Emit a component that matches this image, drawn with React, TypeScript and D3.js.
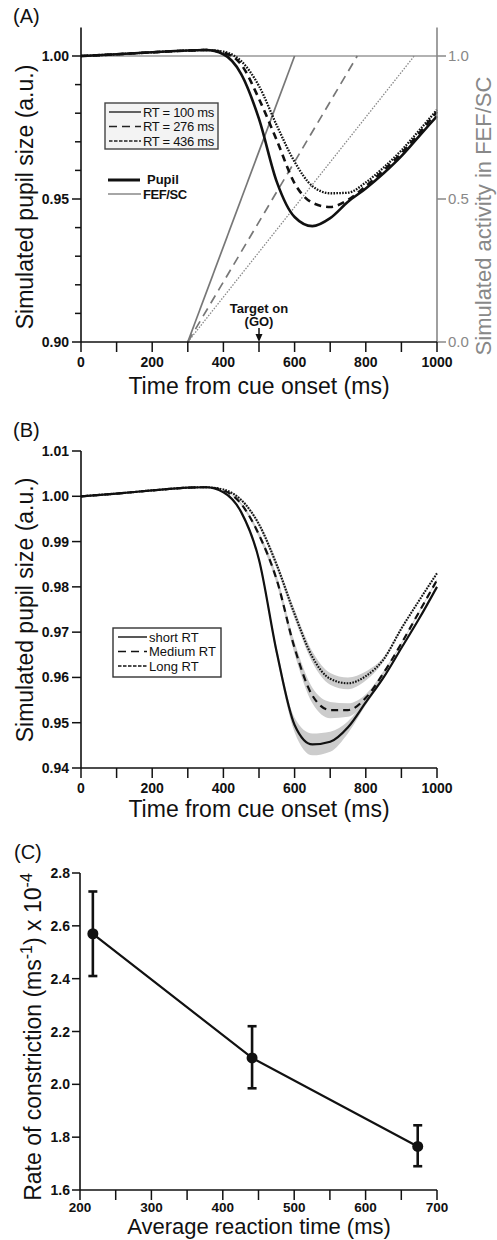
import { useEffect } from "react";
import * as d3 from "d3";

const FONT = "'Liberation Sans', Arial, sans-serif";

// time samples (ms from cue onset) shared by the simulated pupil traces
const timeMs = [0, 100, 200, 300, 350, 400, 450, 500, 550, 600, 650, 700, 750, 800, 850, 900, 950, 1000];

// (A) simulated pupil for three reaction times + FEF/SC ramps
const pupilRt100 = [1.0, 1.0006, 1.0013, 1.0019, 1.0021, 1.0006, 0.9937, 0.978, 0.956, 0.9437, 0.9405, 0.9433, 0.949, 0.9537, 0.959, 0.965, 0.972, 0.979];
const pupilRt276 = [1.0, 1.0006, 1.0013, 1.0019, 1.0021, 1.0012, 0.997, 0.985, 0.9705, 0.9555, 0.9487, 0.9472, 0.9497, 0.9545, 0.96, 0.966, 0.973, 0.9805];
const pupilRt436 = [1.0, 1.0006, 1.0013, 1.0019, 1.0021, 1.0015, 0.9982, 0.9895, 0.9757, 0.963, 0.9545, 0.952, 0.9522, 0.9558, 0.961, 0.967, 0.974, 0.9812];
const rtValuesA = [100, 276, 436];
const rtLabelsA = ["RT = 100 ms", "RT = 276 ms", "RT = 436 ms"];
const fefOnsetMs = 300;
const targetOnMs = 500;
const fefThreshold = 1.0;

// (B) simulated pupil for RT groups, with shaded error
const pupilShort = [1.0, 1.0006, 1.0013, 1.0019, 1.002, 1.0009, 0.9965, 0.986, 0.9655, 0.9495, 0.9452, 0.9458, 0.949, 0.9545, 0.96, 0.9665, 0.973, 0.98];
const pupilMedium = [1.0, 1.0006, 1.0013, 1.0019, 1.002, 1.0013, 0.9983, 0.9915, 0.9815, 0.9665, 0.956, 0.9528, 0.9528, 0.9555, 0.961, 0.9675, 0.9745, 0.9815];
const pupilLong = [1.0, 1.0006, 1.0013, 1.0019, 1.002, 1.0015, 0.9992, 0.9938, 0.9848, 0.974, 0.9645, 0.9597, 0.9587, 0.9603, 0.964, 0.9708, 0.977, 0.983];
const semShort = [0, 0, 0, 0, 0, 0, 0.0003, 0.0006, 0.001, 0.0016, 0.0024, 0.0022, 0.0013, 0.0006, 0.0003, 0.0002, 0.0002, 0.0002];
const semMedium = [0, 0, 0, 0, 0, 0, 0.0003, 0.0006, 0.0009, 0.0013, 0.0017, 0.0018, 0.0015, 0.0008, 0.0004, 0.0002, 0.0002, 0.0002];
const semLong = [0, 0, 0, 0, 0, 0, 0.0003, 0.0005, 0.0008, 0.001, 0.0012, 0.0013, 0.0013, 0.001, 0.0005, 0.0003, 0.0002, 0.0002];
const rtLabelsB = ["short RT", "Medium RT", "Long RT"];

// (C) constriction rate vs reaction time
const avgRtMs = [218, 441, 673];
const constrictionRate = [2.57, 2.1, 1.765];
const rateLow = [2.41, 1.985, 1.69];
const rateHigh = [2.73, 2.22, 1.845];

// ticks
const timeTicks = [0, 200, 400, 600, 800, 1000];
const timeMinor = [100, 300, 500, 700, 900];
const yTicksA = [0.9, 0.95, 1.0];
const yMinorA = [0.91, 0.92, 0.93, 0.94, 0.96, 0.97, 0.98, 0.99];
const yTicksRight = [0, 0.5, 1.0];
const yTicksB = [0.94, 0.95, 0.96, 0.97, 0.98, 0.99, 1.0, 1.01];
const xTicksC = [200, 300, 400, 500, 600, 700];
const xMinorC = [250, 350, 450, 550, 650];
const yTicksC = [1.6, 1.8, 2.0, 2.2, 2.4, 2.6, 2.8];

// line styles for the three RT conditions (solid, dashed, dotted)
const pupilDash = [undefined, "7 5", "1.6 1.3"];
const legendDash = [undefined, "8 5", "3.5 1.5"];
const fefDash = [undefined, "9 6", "1.5 1.5"];

export default function App() {
  useEffect(() => {
    document.body.style.margin = "0";
  }, []);

  const xA = d3.scaleLinear().domain([0, 1000]).range([81, 437]);
  const yA = d3.scaleLinear().domain([0.9, 1.0]).range([342, 56]);
  const yAr = d3.scaleLinear().domain([0, 1]).range([342, 56]);
  const xB = d3.scaleLinear().domain([0, 1000]).range([81, 437]);
  const yB = d3.scaleLinear().domain([0.94, 1.01]).range([768, 451]);
  const xC = d3.scaleLinear().domain([200, 700]).range([80, 437]);
  const yC = d3.scaleLinear().domain([1.6, 2.8]).range([1190, 873]);

  const lineA = d3.line<number>().x((_, i) => xA(timeMs[i])).y((d) => yA(d)).curve(d3.curveMonotoneX);
  const lineB = d3.line<number>().x((_, i) => xB(timeMs[i])).y((d) => yB(d)).curve(d3.curveMonotoneX);
  const bandB = (vals: number[], sem: number[]) =>
    d3.area<number>()
      .x((_, i) => xB(timeMs[i]))
      .y0((d, i) => yB(d - sem[i]))
      .y1((d, i) => yB(d + sem[i]))
      .curve(d3.curveMonotoneX)(vals) || "";
  const lineC = d3.line<number>().x((_, i) => xC(avgRtMs[i])).y((d) => yC(d));

  const pupilA = [pupilRt100, pupilRt276, pupilRt436];
  const pupilB = [pupilShort, pupilMedium, pupilLong];
  const semB = [semShort, semMedium, semLong];

  const f2 = d3.format(".2f");
  const f1 = d3.format(".1f");

  const tickText = { fontFamily: FONT, fontSize: 14, fontWeight: "bold" as const, fill: "#111" };
  const titleText = { fontFamily: FONT, fontSize: 23, fill: "#111" };

  const yTopA = yA(1.01);

  return (
    <svg width={497} height={1240} style={{ position: "absolute", left: 0, top: 0, background: "#fff" }}>
      {/* ================= (A) ================= */}
      <text x={13} y={23} style={{ fontFamily: FONT, fontSize: 20, fill: "#111" }}>(A)</text>

      {/* FEF/SC threshold */}
      <line x1={xA(0)} x2={xA(1000)} y1={yAr(fefThreshold)} y2={yAr(fefThreshold)} stroke="#999" strokeWidth={1.3} />

      {/* FEF/SC ramps */}
      {rtValuesA.map((rt, i) => (
        <line key={"fef" + i}
          x1={xA(fefOnsetMs)} y1={yAr(0)}
          x2={xA(targetOnMs + rt)} y2={yAr(fefThreshold)}
          stroke={i === 2 ? "#888" : "#777"}
          strokeWidth={i === 2 ? 1.3 : 1.7}
          strokeDasharray={fefDash[i]} />
      ))}

      {/* pupil traces */}
      {pupilA.map((vals, i) => (
        <path key={"pa" + i} d={lineA(vals) || ""} fill="none" stroke="#111"
          strokeWidth={i === 2 ? 2.3 : 2.6} strokeDasharray={pupilDash[i]} />
      ))}

      {/* left axis */}
      <line x1={81} x2={81} y1={yTopA} y2={342} stroke="#111" strokeWidth={1.6} />
      {yTicksA.map((t) => (
        <g key={"ya" + t}>
          <line x1={72} x2={81} y1={yA(t)} y2={yA(t)} stroke="#111" strokeWidth={1.5} />
          <text x={69} y={yA(t) + 5} textAnchor="end" style={tickText}>{f2(t)}</text>
        </g>
      ))}
      {yMinorA.map((t) => (
        <line key={"yam" + t} x1={75} x2={81} y1={yA(t)} y2={yA(t)} stroke="#111" strokeWidth={1.5} />
      ))}

      {/* right axis */}
      <line x1={437} x2={437} y1={yTopA} y2={342} stroke="#888" strokeWidth={1.6} />
      {yTicksRight.map((t) => (
        <g key={"yr" + t}>
          <line x1={437} x2={446} y1={yAr(t)} y2={yAr(t)} stroke="#888" strokeWidth={1.5} />
          <text x={448} y={yAr(t) + 5} style={{ fontFamily: FONT, fontSize: 15, fill: "#888" }}>{f1(t)}</text>
        </g>
      ))}

      {/* bottom axis */}
      <line x1={81} x2={437} y1={342} y2={342} stroke="#111" strokeWidth={1.6} />
      {timeTicks.concat(timeMinor).map((t) => (
        <line key={"xa" + t} x1={xA(t)} x2={xA(t)} y1={342} y2={352} stroke="#111" strokeWidth={1.5} />
      ))}
      {timeTicks.map((t) => (
        <text key={"xal" + t} x={xA(t)} y={367} textAnchor="middle" style={tickText}>{t}</text>
      ))}

      {/* target on arrow */}
      <text x={xA(targetOnMs)} y={313} textAnchor="middle" style={{ fontFamily: FONT, fontSize: 13, fontWeight: "bold", fill: "#111" }}>Target on</text>
      <text x={xA(targetOnMs)} y={326} textAnchor="middle" style={{ fontFamily: FONT, fontSize: 13, fontWeight: "bold", fill: "#111" }}>(GO)</text>
      <line x1={xA(targetOnMs)} x2={xA(targetOnMs)} y1={328} y2={336} stroke="#111" strokeWidth={1.5} />
      <path d={`M${xA(targetOnMs) - 3.5},334 L${xA(targetOnMs) + 3.5},334 L${xA(targetOnMs)},342 Z`} fill="#111" />

      {/* legend A */}
      <rect x={105} y={103} width={113} height={46} fill="#f3f3f3" stroke="#444" strokeWidth={1.4} />
      {rtLabelsA.map((lab, i) => (
        <g key={"la" + i}>
          <line x1={109} x2={141} y1={112 + i * 14.5} y2={112 + i * 14.5} stroke="#222"
            strokeWidth={1.4} strokeDasharray={legendDash[i]} />
          <text x={143} y={116.5 + i * 14.5} style={{ fontFamily: FONT, fontSize: 13, fill: "#111", letterSpacing: -0.3 }}>{lab}</text>
        </g>
      ))}
      <line x1={108} x2={140} y1={180} y2={180} stroke="#111" strokeWidth={3} />
      <text x={147} y={184} style={{ fontFamily: FONT, fontSize: 13, fontWeight: "bold", fill: "#111" }}>Pupil</text>
      <line x1={108} x2={141} y1={194} y2={194} stroke="#888" strokeWidth={1.6} />
      <text x={143} y={198.5} style={{ fontFamily: FONT, fontSize: 13, fontWeight: "bold", fill: "#111", letterSpacing: -0.4 }}>FEF/SC</text>

      {/* axis titles A */}
      <text transform="translate(33,197) rotate(-90)" textAnchor="middle" style={titleText}>Simulated pupil size (a.u.)</text>
      <text transform="translate(491,216) rotate(-90)" textAnchor="middle" style={{ ...titleText, fontSize: 22, fill: "#888" }}>Simulated activity in FEF/SC</text>
      <text x={259} y={394} textAnchor="middle" style={titleText}>Time from cue onset (ms)</text>

      {/* ================= (B) ================= */}
      <text x={13} y={437} style={{ fontFamily: FONT, fontSize: 20, fill: "#111" }}>(B)</text>

      {pupilB.map((vals, i) => (
        <path key={"bb" + i} d={bandB(vals, semB[i])} fill="#cccccc" stroke="none" />
      ))}
      {pupilB.map((vals, i) => (
        <path key={"pb" + i} d={lineB(vals) || ""} fill="none" stroke="#111"
          strokeWidth={i === 2 ? 2.1 : 2.2} strokeDasharray={pupilDash[i]} />
      ))}

      <line x1={81} x2={81} y1={yB(1.01)} y2={768} stroke="#111" strokeWidth={1.6} />
      {yTicksB.map((t) => (
        <g key={"yb" + t}>
          <line x1={72} x2={81} y1={yB(t)} y2={yB(t)} stroke="#111" strokeWidth={1.5} />
          <text x={69} y={yB(t) + 5} textAnchor="end" style={tickText}>{f2(t)}</text>
        </g>
      ))}
      <line x1={81} x2={437} y1={768} y2={768} stroke="#111" strokeWidth={1.6} />
      {timeTicks.concat(timeMinor).map((t) => (
        <line key={"xb" + t} x1={xB(t)} x2={xB(t)} y1={768} y2={778} stroke="#111" strokeWidth={1.5} />
      ))}
      {timeTicks.map((t) => (
        <text key={"xbl" + t} x={xB(t)} y={793} textAnchor="middle" style={tickText}>{t}</text>
      ))}

      {/* legend B */}
      <rect x={113} y={628} width={108} height={49} fill="#fff" stroke="#333" strokeWidth={1.4} />
      {rtLabelsB.map((lab, i) => (
        <g key={"lb" + i}>
          <line x1={118} x2={147} y1={637 + i * 14.5} y2={637 + i * 14.5} stroke="#111"
            strokeWidth={1.4} strokeDasharray={legendDash[i]} />
          <text x={149} y={641.5 + i * 14.5} style={{ fontFamily: FONT, fontSize: 13, fill: "#111" }}>{lab}</text>
        </g>
      ))}

      <text transform="translate(33,610) rotate(-90)" textAnchor="middle" style={titleText}>Simulated pupil size (a.u.)</text>
      <text x={259} y={817} textAnchor="middle" style={titleText}>Time from cue onset (ms)</text>

      {/* ================= (C) ================= */}
      <text x={14} y={859} style={{ fontFamily: FONT, fontSize: 20, fill: "#111" }}>(C)</text>

      <path d={lineC(constrictionRate) || ""} fill="none" stroke="#111" strokeWidth={2.2} />
      {avgRtMs.map((rt, i) => (
        <g key={"pc" + i}>
          <line x1={xC(rt)} x2={xC(rt)} y1={yC(rateLow[i])} y2={yC(rateHigh[i])} stroke="#111" strokeWidth={2.6} />
          <line x1={xC(rt) - 4.5} x2={xC(rt) + 4.5} y1={yC(rateLow[i])} y2={yC(rateLow[i])} stroke="#111" strokeWidth={2.6} />
          <line x1={xC(rt) - 4.5} x2={xC(rt) + 4.5} y1={yC(rateHigh[i])} y2={yC(rateHigh[i])} stroke="#111" strokeWidth={2.6} />
          <circle cx={xC(rt)} cy={yC(constrictionRate[i])} r={5.5} fill="#111" />
        </g>
      ))}

      <line x1={80} x2={80} y1={yC(2.8)} y2={1190} stroke="#111" strokeWidth={1.6} />
      {yTicksC.map((t) => (
        <g key={"yc" + t}>
          <line x1={72} x2={80} y1={yC(t)} y2={yC(t)} stroke="#111" strokeWidth={1.5} />
          <text x={70} y={yC(t) + 5} textAnchor="end" style={tickText}>{f1(t)}</text>
        </g>
      ))}
      <line x1={80} x2={437} y1={1190} y2={1190} stroke="#111" strokeWidth={1.6} />
      {xTicksC.concat(xMinorC).map((t) => (
        <line key={"xc" + t} x1={xC(t)} x2={xC(t)} y1={1190} y2={1200} stroke="#111" strokeWidth={1.5} />
      ))}
      {xTicksC.map((t) => (
        <text key={"xcl" + t} x={xC(t)} y={1212} textAnchor="middle" style={{ ...tickText, fontSize: 13.5 }}>{t}</text>
      ))}

      <text transform="translate(41,1037) rotate(-90)" textAnchor="middle" style={titleText}>
        Rate of constriction (ms<tspan dy={-9} fontSize={16}>-1</tspan><tspan dy={9}>) x 10</tspan><tspan dy={-9} fontSize={16}>-4</tspan>
      </text>
      <text x={259} y={1234} textAnchor="middle" style={{ ...titleText, fontSize: 22 }}>Average reaction time (ms)</text>
    </svg>
  );
}
